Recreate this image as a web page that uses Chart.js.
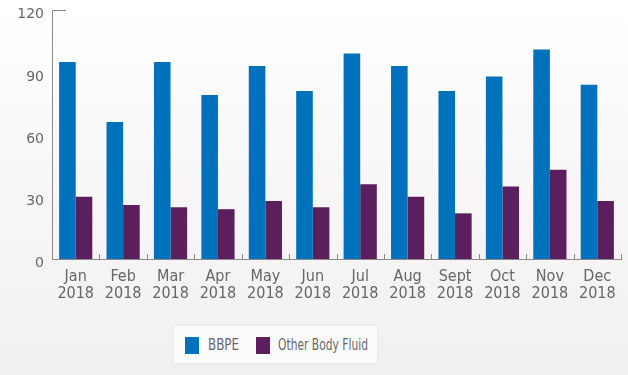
<!DOCTYPE html>
<html>
<head>
<meta charset="utf-8">
<script src="https://cdn.jsdelivr.net/npm/chart.js@4/dist/chart.umd.min.js"></script>
<style>
  html, body { margin: 0; padding: 0; }
  body {
    width: 628px; height: 375px; overflow: hidden; position: relative;
    background: linear-gradient(to bottom, #ffffff 0%, #fbfafb 30%, #f1eff0 100%);
  }
  #wrap { position: absolute; left: 0; top: 0; width: 628px; height: 320px; }
  #legend {
    position: absolute; left: 174px; top: 326px; width: 203px; height: 37px;
    background: #fcfbfc; box-shadow: 0 0 3px rgba(0,0,0,0.06);
    font-family: "DejaVu Sans Condensed", "Liberation Sans Narrow", sans-serif;
    font-size: 16px; color: #666;
  }
  .sw { position: absolute; top: 11px; width: 14px; height: 17px; }
  .txt { position: absolute; top: 9px; white-space: nowrap; transform-origin: 0 50%; display: inline-block; }
</style>
</head>
<body>
<div id="wrap"><canvas id="c"></canvas></div>
<div id="legend"></div>
<script>
const categories = [["Jan","2018"],["Feb","2018"],["Mar","2018"],["Apr","2018"],["May","2018"],["Jun","2018"],["Jul","2018"],["Aug","2018"],["Sept","2018"],["Oct","2018"],["Nov","2018"],["Dec","2018"]];
const seriesNames = ["BBPE", "Other Body Fluid"];
const bbpe = [95, 66, 95, 79, 93, 81, 99, 93, 81, 88, 101, 84];
const otherBodyFluid = [30, 26, 25, 24, 28, 25, 36, 30, 22, 35, 43, 28];
const yTicks = [0, 30, 60, 90, 120];
const colors = ["#0072bb", "#5b1f5e"];

const axisTicks = {
  id: 'axisTicks',
  afterDraw(chart) {
    const ctx = chart.ctx, x = chart.scales.x, y = chart.scales.y;
    ctx.save();
    ctx.strokeStyle = '#8a8a8a';
    ctx.lineWidth = 1;
    ctx.beginPath();
    const n = categories.length;
    for (let i = 0; i < n; i++) {
      let px;
      if (i < n - 1) px = (x.getPixelForValue(i) + x.getPixelForValue(i + 1)) / 2;
      else px = x.right;
      px = Math.round(px) + 0.5;
      ctx.moveTo(px, y.bottom);
      ctx.lineTo(px, y.bottom - 5);
    }
    const top = Math.round(y.getPixelForValue(120)) + 0.5;
    ctx.moveTo(x.left, top);
    ctx.lineTo(x.left + 14, top);
    ctx.stroke();
    ctx.restore();
  }
};

new Chart(document.getElementById('c'), {
  type: 'bar',
  data: {
    labels: categories,
    datasets: [
      { label: seriesNames[0], data: bbpe, backgroundColor: colors[0] },
      { label: seriesNames[1], data: otherBodyFluid, backgroundColor: colors[1] }
    ]
  },
  options: {
    responsive: true,
    maintainAspectRatio: false,
    animation: false,
    layout: { padding: { top: 10, right: 7, bottom: 0, left: 0 } },
    datasets: { bar: { categoryPercentage: 0.70, barPercentage: 1.0 } },
    plugins: { legend: { display: false }, tooltip: { enabled: false } },
    scales: {
      x: {
        grid: { display: false, drawTicks: false },
        border: { display: true, color: '#8a8a8a', width: 1 },
        ticks: {
          color: '#666',
          padding: 9,
          font: { family: '"DejaVu Sans Condensed", "Liberation Sans Narrow", sans-serif', size: 16, lineHeight: 1.06 },
          maxRotation: 0, autoSkip: false
        },
        afterFit(s) { s.height = 61; }
      },
      y: {
        min: 0, max: 120,
        afterBuildTicks(s) { s.ticks = yTicks.map(v => ({ value: v })); },
        grid: { display: false, drawTicks: false },
        border: { display: true, color: '#8a8a8a', width: 1 },
        ticks: {
          color: '#666',
          padding: 8,
          font: { family: '"DejaVu Sans", sans-serif', size: 14, lineHeight: 0.68 },
          callback: (v) => ['', String(v)]
        },
        afterFit(s) { s.width = 52; s.paddingTop = 0; s.paddingBottom = 0; }
      }
    }
  },
  plugins: [axisTicks]
});

// HTML legend built from series names and colours
const leg = document.getElementById('legend');
const swLeft = [11, 82];
const txtLeft = [34, 104];
const txtWidth = [31, 90];
seriesNames.forEach((name, i) => {
  const sw = document.createElement('div');
  sw.className = 'sw';
  sw.style.left = swLeft[i] + 'px';
  sw.style.background = colors[i];
  leg.appendChild(sw);
  const t = document.createElement('span');
  t.className = 'txt';
  t.textContent = name;
  t.style.left = txtLeft[i] + 'px';
  leg.appendChild(t);
  const w = t.getBoundingClientRect().width;
  if (w > 0) t.style.transform = 'scaleX(' + (txtWidth[i] / w) + ')';
});
</script>
</body>
</html>
